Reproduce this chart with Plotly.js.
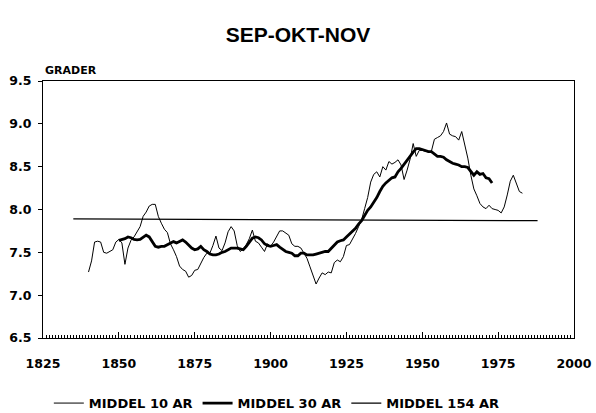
<!DOCTYPE html>
<html>
<head>
<meta charset="utf-8">
<script src="https://cdn.plot.ly/plotly-3.0.1.min.js"></script>
<style>html,body{margin:0;padding:0;background:#fff;}#chart{width:596px;height:413px;}</style>
</head>
<body>
<div id="chart"></div>
<script>
// 10-year running mean
var years10 = [1840,1841,1842,1843,1844,1845,1846,1847,1848,1849,1850,1851,1852,1853,1854,1855,1856,1857,1858,1859,
1860,1861,1862,1863,1864,1865,1866,1867,1868,1869,1870,1871,1872,1873,1874,1875,1876,1877,1878,1879,
1880,1881,1882,1883,1884,1885,1886,1887,1888,1889,1890,1891,1892,1893,1894,1895,1896,1897,1898,1899,
1900,1901,1902,1903,1904,1905,1906,1907,1908,1909,1910,1911,1912,1913,1914,1915,1916,1917,1918,1919,
1920,1921,1922,1923,1924,1925,1926,1927,1928,1929,1930,1931,1932,1933,1934,1935,1936,1937,1938,1939,
1940,1941,1942,1943,1944,1945,1946,1947,1948,1949,1950,1951,1952,1953,1954,1955,1956,1957,1958,1959,
1960,1961,1962,1963,1964,1965,1966,1967,1968,1969,1970,1971,1972,1973,1974,1975,1976,1977,1978,1979,
1980,1981,1982,1983];
var mean10 = [7.27,7.40,7.62,7.63,7.62,7.50,7.49,7.51,7.53,7.62,7.65,7.61,7.36,7.55,7.64,7.68,7.74,7.80,7.92,7.97,
8.04,8.06,8.06,7.92,7.84,7.77,7.73,7.60,7.53,7.45,7.34,7.30,7.28,7.21,7.23,7.29,7.30,7.37,7.44,7.49,
7.49,7.58,7.69,7.55,7.52,7.61,7.74,7.80,7.75,7.58,7.51,7.54,7.59,7.66,7.76,7.63,7.61,7.56,7.51,7.60,
7.57,7.62,7.68,7.75,7.75,7.72,7.70,7.60,7.57,7.57,7.55,7.49,7.43,7.33,7.24,7.13,7.20,7.26,7.24,7.27,
7.26,7.38,7.41,7.39,7.45,7.58,7.59,7.65,7.72,7.80,7.88,8.01,8.14,8.32,8.41,8.44,8.38,8.50,8.46,8.56,
8.53,8.55,8.58,8.52,8.35,8.46,8.59,8.77,8.62,8.69,8.69,8.68,8.675,8.68,8.82,8.84,8.86,8.91,9.01,8.88,
8.86,8.85,8.81,8.91,8.77,8.60,8.40,8.24,8.16,8.07,8.03,8.01,8.05,8.01,8.00,7.99,7.96,8.03,8.17,8.33,
8.40,8.31,8.21,8.19];

// 30-year running mean
var years30 = [1850,1851,1852,1853,1854,1855,1856,1857,1858,1859,1860,1861,1862,1863,1864,1865,1866,1867,1868,1869,
1870,1871,1872,1873,1874,1875,1876,1877,1878,1879,1880,1881,1882,1883,1884,1885,1886,1887,1888,1889,
1890,1891,1892,1893,1894,1895,1896,1897,1898,1899,1900,1901,1902,1903,1904,1905,1906,1907,1908,1909,
1910,1911,1912,1913,1914,1915,1916,1917,1918,1919,1920,1921,1922,1923,1924,1925,1926,1927,1928,1929,
1930,1931,1932,1933,1934,1935,1936,1937,1938,1939,1940,1941,1942,1943,1944,1945,1946,1947,1948,1949,
1950,1951,1952,1953,1954,1955,1956,1957,1958,1959,1960,1961,1962,1963,1964,1965,1966,1967,1968,1969,
1970,1971,1972,1973];
var mean30 = [7.64,7.65,7.66,7.68,7.67,7.65,7.645,7.65,7.68,7.70,7.68,7.62,7.57,7.56,7.57,7.57,7.59,7.61,7.625,7.61,
7.625,7.645,7.62,7.58,7.55,7.53,7.54,7.57,7.53,7.51,7.48,7.47,7.47,7.48,7.50,7.51,7.53,7.55,7.55,7.55,
7.54,7.53,7.57,7.62,7.665,7.68,7.67,7.645,7.60,7.58,7.57,7.58,7.59,7.56,7.53,7.51,7.50,7.49,7.46,7.46,
7.49,7.49,7.47,7.47,7.47,7.48,7.49,7.50,7.51,7.51,7.55,7.59,7.62,7.635,7.645,7.68,7.71,7.74,7.78,7.83,
7.87,7.93,7.99,8.03,8.08,8.14,8.21,8.27,8.31,8.34,8.37,8.38,8.44,8.48,8.53,8.58,8.63,8.67,8.71,8.71,
8.70,8.69,8.675,8.675,8.65,8.62,8.62,8.61,8.58,8.56,8.54,8.53,8.52,8.50,8.50,8.49,8.44,8.40,8.44,8.41,
8.42,8.37,8.36,8.31];

// 154-year mean
var years154 = [1835, 1988];
var mean154 = [7.89, 7.87];

var names = ['MIDDEL 10 AR','MIDDEL 30 AR','MIDDEL 154 AR'];

var F = 'DejaVu Sans, sans-serif';
var FT = 'Liberation Sans, Arial, sans-serif';
var traces = [
  {x: years10, y: mean10, name: names[0], mode: 'lines', line: {color: '#000', width: 1}},
  {x: years30, y: mean30, name: names[1], mode: 'lines', line: {color: '#000', width: 2.8}},
  {x: years154, y: mean154, name: names[2], mode: 'lines', line: {color: '#000', width: 1.3}}
];
var layout = {
  width: 596, height: 413,
  margin: {l: 43, r: 22, t: 81, b: 75, autoexpand: false},
  paper_bgcolor: '#fff', plot_bgcolor: '#fff',
  showlegend: true,
  title: {text: 'SEP-OKT-NOV', x: 0.5, xanchor: 'center', y: 0.915, yanchor: 'middle',
          font: {family: FT, size: 21, weight: 'bold', color: '#000'}},
  xaxis: {range: [1825, 2000], tickmode: 'linear', tick0: 1825, dtick: 25,
          ticks: 'inside', ticklen: 6, tickcolor: '#000', tickwidth: 1,
          minor: {tickmode: 'linear', tick0: 1825, dtick: 1, ticks: 'inside', ticklen: 3, tickcolor: '#000', tickwidth: 1, showgrid: false},
          showline: true, linecolor: '#000', linewidth: 1, mirror: true, showgrid: false, zeroline: false,
          ticklabelstandoff: 14,
          tickfont: {family: F, size: 12.5, weight: 'bold', color: '#000'}},
  yaxis: {range: [6.5, 9.5], tickmode: 'linear', tick0: 6.5, dtick: 0.5, tickformat: '.1f',
          ticks: 'outside', ticklen: 4, tickcolor: '#000', tickwidth: 1,
          showline: true, linecolor: '#000', linewidth: 1, mirror: true, showgrid: false, zeroline: false,
          ticklabelstandoff: 4,
          tickfont: {family: F, size: 12.5, weight: 'bold', color: '#000'}},
  legend: {orientation: 'h', x: 0.011, xanchor: 'left', y: -0.195, yanchor: 'top',
           font: {family: F, size: 13, weight: 'bold', color: '#000'}, itemwidth: 30, traceorder: 'normal'},
  annotations: [{text: 'GRADER', xref: 'paper', yref: 'paper', x: 0, y: 1, xanchor: 'left', yanchor: 'bottom',
                 yshift: 2, showarrow: false, font: {family: F, size: 11, weight: 'bold', color: '#000'}}]
};
Plotly.newPlot('chart', traces, layout, {staticPlot: true, displayModeBar: false});
</script>
</body>
</html>
